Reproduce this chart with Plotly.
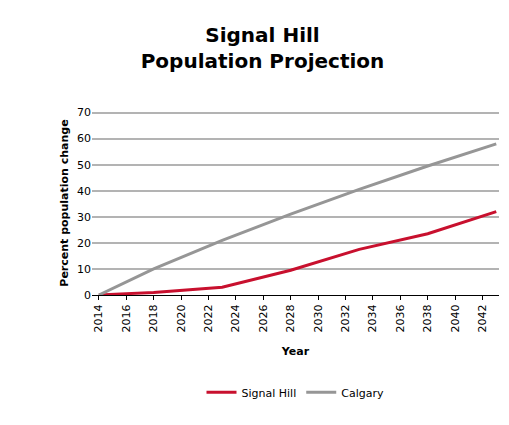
import plotly.graph_objects as go

years = [2014, 2016, 2018, 2023, 2028, 2033, 2038, 2043]
signal_hill = [0, 0.5, 1.0, 3.0, 9.5, 17.5, 23.5, 32.0]
calgary = [0, 5.0, 10.0, 21.0, 31.0, 40.5, 49.5, 58.0]
tick_years = list(range(2014, 2043, 2))

fig = go.Figure()
fig.add_trace(go.Scatter(x=years, y=signal_hill, mode="lines", name="Signal Hill",
                         line=dict(color="#c8102e", width=3)))
fig.add_trace(go.Scatter(x=years, y=calgary, mode="lines", name="Calgary",
                         line=dict(color="#969696", width=3)))

fig.update_layout(
    width=509, height=425,
    paper_bgcolor="white", plot_bgcolor="white",
    font=dict(family="DejaVu Sans", size=11, color="black"),
    title=dict(text="<b>Signal Hill<br>Population Projection</b>", x=0.5, y=0.92,
               xanchor="center", yanchor="top", font=dict(size=20)),
    margin=dict(l=84, r=18, t=103, b=138, autoexpand=False),
    legend=dict(orientation="h", x=0.5, xanchor="center", y=-0.45, yanchor="top",
                font=dict(size=11)),
    showlegend=True,
)
fig.update_xaxes(range=[2013.5, 2043.2], tickvals=tick_years, tickangle=-90,
                 showgrid=False, showline=True, linecolor="black", ticks="outside",
                 ticklen=4, tickcolor="black",
                 title=dict(text="<b>Year</b>", font=dict(size=11)))
fig.update_yaxes(range=[0, 70.6], tickvals=[0, 10, 20, 30, 40, 50, 60, 70],
                 ticksuffix="%", showgrid=True,
                 gridcolor="#b3b3b3", gridwidth=1.5, zeroline=False,
                 title=dict(text="<b>Percent population change</b>", font=dict(size=11),
                            standoff=6))

fig.write_html("out.html")
